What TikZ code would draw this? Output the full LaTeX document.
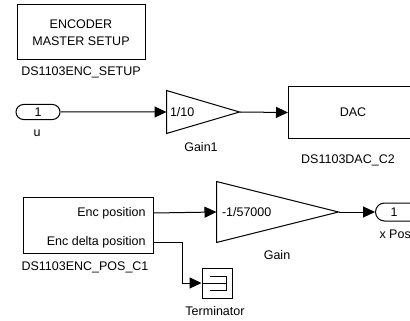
\documentclass[tikz,border=0pt]{standalone}
\usepackage{fontspec}
\setmainfont{Liberation Sans}
\usetikzlibrary{arrows.meta,shapes.misc,calc}
\begin{document}
\begin{tikzpicture}[x=1pt,y=-1pt,
  font=\fontsize{12.5}{17}\selectfont,
  line width=1pt,
  arr/.style={-{Triangle[length=12pt,width=11pt]}},
  lbl/.style={inner sep=0pt}]
\useasboundingbox (0,0) rectangle (410,321);
% encoder setup
\node[draw, minimum width=128pt, minimum height=55pt, align=center, inner sep=0pt] (enc) at (81,32.5) {ENCODER\\MASTER SETUP};
\node[lbl] (encl) at (81,72) {DS1103ENC\_SETUP};
% inport u
\node[draw, rounded rectangle, minimum width=44pt, minimum height=15pt, inner sep=0pt] (u) at (38,112) {1};
\node[lbl] (ul) at (37,133) {u};
% gain1
\node[minimum width=72pt, minimum height=42pt, inner sep=0pt] (g1) at (203,112) {};
\draw (g1.north west) -- (g1.east) -- (g1.south west) -- cycle;
\node[anchor=west, inner sep=3pt] (g1t) at (g1.west) {1/10};
\node[lbl] (g1l) at (201,147) {Gain1};
% DAC
\node[draw, minimum width=130pt, minimum height=52pt, anchor=north west, inner sep=0pt] (dac) at (288,86) {};
\node[lbl] (dact) at (353,112) {DAC};
\node[lbl] (dacl) at (348,160) {DS1103DAC\_C2};
\draw[arr] (u) -- (g1.west);
\draw[arr] (g1.east) -- (dac.west);
% encoder position
\node[draw, minimum width=130pt, minimum height=56pt, inner sep=0pt] (pos) at (88,225) {};
\node[anchor=east, inner sep=0pt] (p1) at (146,213) {Enc position};
\node[anchor=east, inner sep=0pt] (p2) at (146,242) {Enc delta position};
\node[lbl] (posl) at (85,267) {DS1103ENC\_POS\_C1};
% gain
\node[minimum width=121pt, minimum height=60pt, inner sep=0pt] (g) at (277.5,212) {};
\draw (g.north west) -- (g.east) -- (g.south west) -- cycle;
\node[anchor=west, inner sep=5pt] (gt) at (g.west) {-1/57000};
\node[lbl] (gl) at (277,255) {Gain};
% outport
\node[draw, rounded rectangle, rounded rectangle right arc=none, minimum width=50pt, minimum height=18pt, anchor=west, inner sep=0pt] (xp) at (375,212) {};
\node[lbl] (xpt) at (394,212) {1};
\node[anchor=west, inner sep=0pt] (xpl) at (379,234) {x Pos};
% terminator
\node[draw, minimum size=30pt, inner sep=0pt] (term) at (217,283) {};
\draw ($(term.center)+(-7,-7)$) -- ++(16,0) -- ++(0,14) -- ++(-16,0);
\draw (term.west) -- ($(term.center)+(9,0)$);
\node[lbl] (terml) at (215,311) {Terminator};
% connectors
\draw[arr] (pos.east |- p1) -- (g.west);
\draw[arr] (g.east) -- (xp.west);
\draw[arr] (pos.east |- p2) -- ++(29,0) |- (term.west);
\end{tikzpicture}
\end{document}
